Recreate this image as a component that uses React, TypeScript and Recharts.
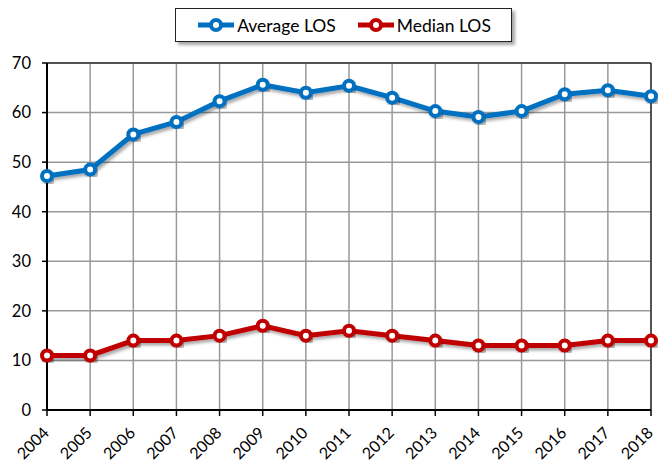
import { LineChart, Line, XAxis, YAxis, CartesianGrid, Legend, ReferenceLine } from 'recharts';

const YEARS = ['2004', '2005', '2006', '2007', '2008', '2009', '2010', '2011', '2012', '2013', '2014', '2015', '2016', '2017', '2018'];
const AVERAGE_LOS = [47.2, 48.5, 55.6, 58.1, 62.3, 65.6, 64.0, 65.4, 63.0, 60.3, 59.1, 60.3, 63.7, 64.5, 63.3];
const MEDIAN_LOS = [11, 11, 14, 14, 15, 17, 15, 16, 15, 14, 13, 13, 13, 14, 14];
const Y_TICKS = [0, 10, 20, 30, 40, 50, 60, 70];

const SERIES = [
  { key: 'avg', name: 'Average LOS', color: '#0070C0' },
  { key: 'median', name: 'Median LOS', color: '#C00000' },
];

const data = YEARS.map((year, i) => ({ year, avg: AVERAGE_LOS[i], median: MEDIAN_LOS[i] }));

const FONT = 'Lato, "Open Sans", sans-serif';

function YearTick(props: any) {
  const { x, y, payload } = props;
  const ax = x - 1;
  const ay = y + 12;
  return (
    <text
      x={ax}
      y={ay}
      transform={`rotate(-45, ${ax}, ${ay})`}
      textAnchor="end"
      dy="0.35em"
      fontSize={16}
      fontFamily={FONT}
      fill="#000"
    >
      {payload.value}
    </text>
  );
}

function LegendBox() {
  return (
    <div style={{ height: 55, position: 'relative' }}>
      <div
        style={{
          position: 'absolute',
          left: 175,
          top: 0,
          width: 335,
          height: 32,
          border: '1.5px solid #222',
          background: '#fff',
          boxShadow: '3px 3px 3px rgba(0,0,0,0.35)',
          display: 'flex',
          alignItems: 'center',
          justifyContent: 'center',
          fontFamily: FONT,
          fontSize: 17.5,
          color: '#000',
        }}
      >
        {SERIES.map((s, i) => (
          <div key={s.key} style={{ display: 'flex', alignItems: 'center', marginLeft: i ? 20 : 0 }}>
            <svg width={40} height={16}>
              <line x1={2} y1={8} x2={38} y2={8} stroke={s.color} strokeWidth={5} />
              <circle cx={20} cy={8} r={5} fill="#fff" stroke={s.color} strokeWidth={4} />
            </svg>
            <span style={{ marginLeft: 1 }}>{s.name}</span>
          </div>
        ))}
      </div>
    </div>
  );
}

export default function App() {
  return (
    <div style={{ position: 'absolute', left: 0, top: 0, background: '#fff' }}>
      <LineChart width={660} height={464} data={data} margin={{ top: 8, right: 9, bottom: 0, left: 0 }}>
        <defs>
          <filter id="shadow" x="-20%" y="-20%" width="140%" height="140%">
            <feDropShadow dx="2" dy="2.5" stdDeviation="1.5" floodColor="#000" floodOpacity="0.35" />
          </filter>
        </defs>
        <CartesianGrid stroke="#999" strokeWidth={1.5} />
        <ReferenceLine y={70} stroke="#333" strokeWidth={1.5} />
        <ReferenceLine x="2018" stroke="#333" strokeWidth={1.5} />
        <XAxis
          dataKey="year"
          height={54}
          interval={0}
          tick={<YearTick />}
          tickSize={6}
          axisLine={{ stroke: '#000', strokeWidth: 2 }}
          tickLine={{ stroke: '#000', strokeWidth: 1.5 }}
        />
        <YAxis
          domain={[0, 70]}
          ticks={Y_TICKS}
          width={47}
          interval={0}
          tickSize={5}
          tickMargin={11}
          axisLine={{ stroke: '#000', strokeWidth: 2 }}
          tickLine={{ stroke: '#000', strokeWidth: 1.5 }}
          tick={{ fill: '#000', fontSize: 16.5, fontFamily: FONT }}
        />
        <Legend verticalAlign="top" align="left" content={<LegendBox />} />
        {SERIES.map((s) => (
          <Line
            key={s.key}
            dataKey={s.key}
            name={s.name}
            stroke={s.color}
            strokeWidth={5}
            filter="url(#shadow)"
            dot={{ r: 5, fill: '#fff', stroke: s.color, strokeWidth: 4, filter: 'url(#shadow)' }}
            activeDot={false}
            isAnimationActive={false}
          />
        ))}
      </LineChart>
    </div>
  );
}
